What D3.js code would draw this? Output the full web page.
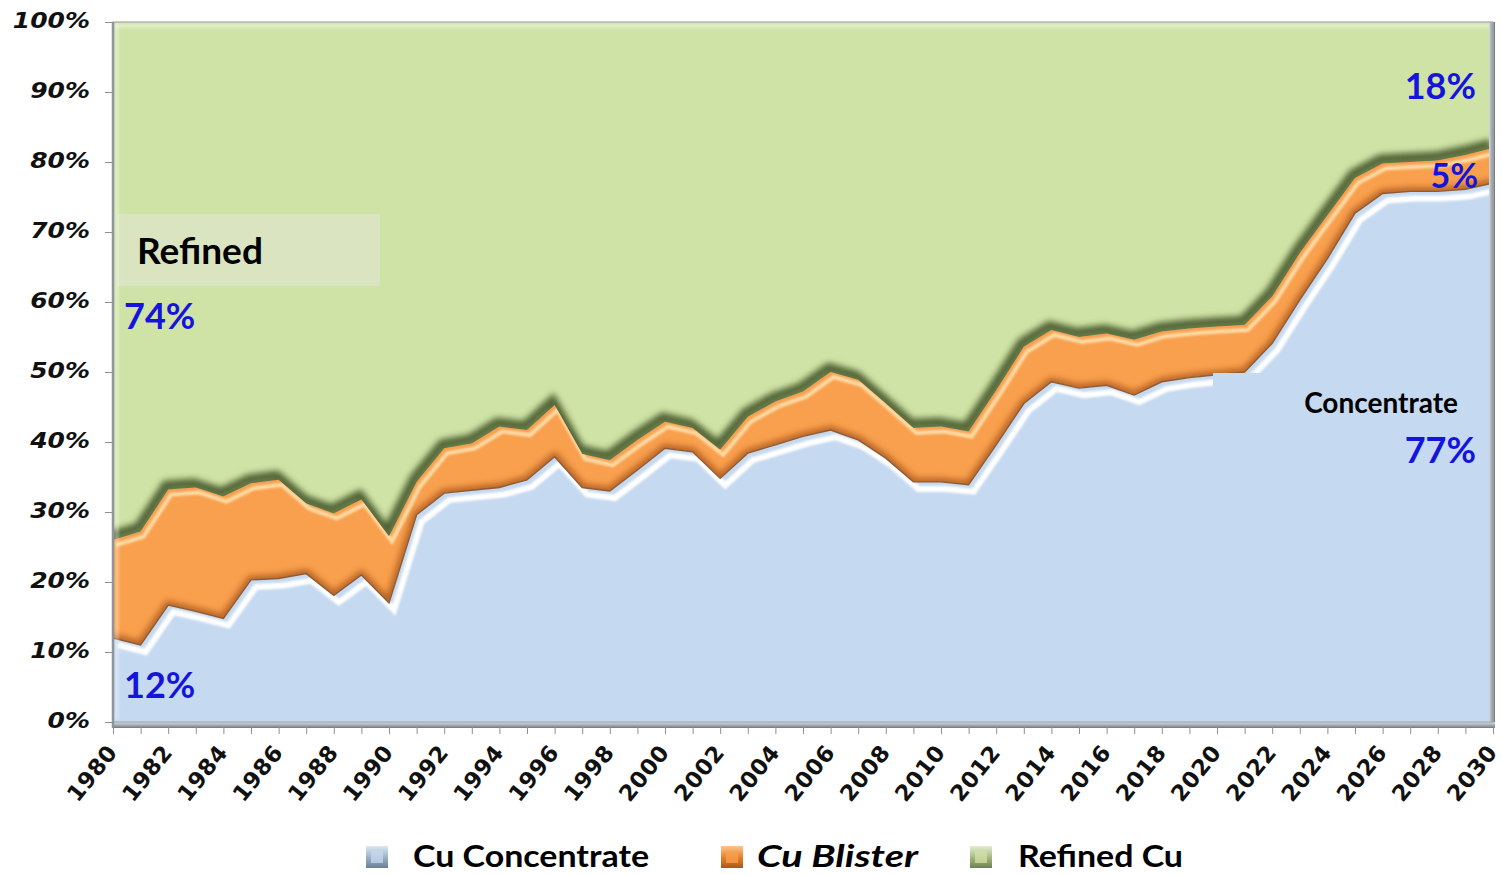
<!DOCTYPE html>
<html>
<head>
<meta charset="utf-8">
<script src="https://cdn.jsdelivr.net/npm/d3@7"></script>
<style>
  body { margin: 0; background: #fff; }
</style>
</head>
<body>
<svg id="chart" width="1502" height="875"></svg>
<script>
// categories
const years = d3.range(1980, 2031);
const yTicks = [0, 10, 20, 30, 40, 50, 60, 70, 80, 90, 100];
const xTickLabels = d3.range(1980, 2031, 2);

// share of trade, %
const concentrate = [12, 11, 16.7, 15.8, 14.8, 20.3, 20.5, 21.2, 18.1, 21, 17,
  29.6, 32.7, 33.1, 33.5, 34.6, 37.9, 33.5, 33, 36, 39.1,
  38.6, 34.8, 38.4, 39.6, 40.8, 41.7, 40.3, 37.7, 34.3, 34.3,
  33.9, 39.6, 45.5, 48.6, 47.7, 48.1, 46.7, 48.6, 49.2, 49.6,
  50, 54.1, 60.3, 66.2, 72.7, 75.5, 75.8, 75.8, 76.1, 77];
const blister = [14, 16.2, 16.5, 17.7, 17.4, 13.8, 14.1, 10, 11.7, 10.8, 9.5,
  4.7, 6.4, 6.7, 8.7, 7.1, 7.4, 4.8, 4.4, 4.3, 3.8,
  3.4, 4.1, 5.2, 6.2, 6.4, 8.3, 8.6, 7.8, 7.7, 7.9,
  7.6, 7.8, 8.1, 7.4, 7.3, 7.4, 7.9, 7.2, 7, 6.9,
  6.7, 6.7, 6.7, 6.2, 5, 4.3, 4.2, 4.4, 4.9, 5];
const refined = [74, 72.8, 66.8, 66.5, 67.8, 65.9, 65.4, 68.8, 70.2, 68.2, 73.5,
  65.7, 60.9, 60.2, 57.8, 58.3, 54.7, 61.7, 62.6, 59.7, 57.1,
  58, 61.1, 56.4, 54.2, 52.8, 50, 51.1, 54.5, 58, 57.8,
  58.5, 52.6, 46.4, 44, 45, 44.5, 45.4, 44.2, 43.8, 43.5,
  43.3, 39.2, 33, 27.6, 22.3, 20.2, 20, 19.8, 19, 18];

const seriesNames = ["Cu Concentrate", "Cu Blister", "Refined Cu"];
const seriesColors = ["#c5d9f0", "#f9a04e", "#d0e3a6"];

const table = years.map((yr, i) => ({
  year: yr,
  "Cu Concentrate": concentrate[i],
  "Cu Blister": blister[i],
  "Refined Cu": refined[i]
}));

const svg = d3.select("#chart");
const plotLeft = 113, plotRight = 1493, plotTop = 22, plotBottom = 722;

const x = d3.scaleLinear().domain([1980, 2030]).range([plotLeft, plotRight]);
const y = d3.scaleLinear().domain([0, 100]).range([plotBottom, plotTop]).clamp(true);

const stack = d3.stack().keys(seriesNames);
const layers = stack(table);

const area = d3.area()
  .x(d => x(d.data.year))
  .y0(d => y(d[0]))
  .y1(d => y(d[1]));
const topLine = d3.line()
  .x(d => x(d.data.year))
  .y(d => y(d[1]));

const defs = svg.append("defs");
defs.append("filter").attr("id", "blurBig")
  .attr("filterUnits", "userSpaceOnUse")
  .attr("x", 0).attr("y", 0).attr("width", 1502).attr("height", 875)
  .append("feGaussianBlur").attr("stdDeviation", 3);
defs.append("filter").attr("id", "blurSmall")
  .attr("filterUnits", "userSpaceOnUse")
  .attr("x", 0).attr("y", 0).attr("width", 1502).attr("height", 875)
  .append("feGaussianBlur").attr("stdDeviation", 1.1);

defs.append("clipPath").attr("id", "clipPlot")
  .append("rect").attr("x", plotLeft).attr("y", plotTop)
  .attr("width", plotRight - plotLeft).attr("height", plotBottom - plotTop);
layers.forEach((layer, i) => {
  defs.append("clipPath").attr("id", "clipArea" + i)
    .append("path").attr("d", area(layer));
});

// legend / frame gradients
function grad(id, stops, vertical) {
  const g = defs.append("linearGradient").attr("id", id)
    .attr("x1", 0).attr("y1", 0)
    .attr("x2", vertical ? 0 : 1).attr("y2", vertical ? 1 : 0);
  stops.forEach(([o, c]) => g.append("stop").attr("offset", o).attr("stop-color", c));
}
grad("gBottom", [[0, "#d5dade"], [0.5, "#a8afb7"], [1, "#6f7780"]], true);
grad("gRight", [[0, "#d5dade"], [0.5, "#9aa2ab"], [1, "#6f7780"]], false);
grad("lg0", [[0, "#dde8f3"], [0.5, "#9fb3c8"], [1, "#6a7f96"]], true);
grad("lg1", [[0, "#fcc58d"], [0.5, "#e8832e"], [1, "#a8581a"]], true);
grad("lg2", [[0, "#e3edcd"], [0.5, "#a9bb84"], [1, "#6e8050"]], true);

const plot = svg.append("g").attr("clip-path", "url(#clipPlot)");

// refined (green) area
plot.append("path").attr("d", area(layers[2])).attr("fill", seriesColors[2]);

// shadow above the blister band
plot.append("path")
  .attr("d", topLine(layers[1]))
  .attr("fill", "none")
  .attr("stroke", "#3f5226")
  .attr("stroke-width", 10)
  .attr("opacity", 0.9)
  .attr("transform", "translate(-2,-4)")
  .attr("filter", "url(#blurBig)");
plot.append("path")
  .attr("d", topLine(layers[1]))
  .attr("fill", "none")
  .attr("stroke", "#5b6e42")
  .attr("stroke-width", 3)
  .attr("opacity", 0.8)
  .attr("transform", "translate(0,-1)")
  .attr("filter", "url(#blurSmall)");

// blister (orange) area
plot.append("path").attr("d", area(layers[1])).attr("fill", seriesColors[1]);
const orangeFx = plot.append("g").attr("clip-path", "url(#clipArea1)");
orangeFx.append("path")
  .attr("d", topLine(layers[0]))
  .attr("fill", "none")
  .attr("stroke", "#a9561a")
  .attr("stroke-width", 8)
  .attr("opacity", 0.85)
  .attr("filter", "url(#blurBig)");
orangeFx.append("path")
  .attr("d", topLine(layers[1]))
  .attr("fill", "none")
  .attr("stroke", "#ffdca6")
  .attr("stroke-width", 4)
  .attr("transform", "translate(3,5)")
  .attr("filter", "url(#blurSmall)");

// concentrate (blue) area
plot.append("path").attr("d", area(layers[0])).attr("fill", seriesColors[0]);
const blueFx = plot.append("g").attr("clip-path", "url(#clipArea0)");
blueFx.append("path")
  .attr("d", topLine(layers[0]))
  .attr("fill", "none")
  .attr("stroke", "#ffffff")
  .attr("stroke-width", 6)
  .attr("transform", "translate(5,7)")
  .attr("filter", "url(#blurSmall)");
plot.append("path")
  .attr("d", topLine(layers[0]))
  .attr("fill", "none")
  .attr("stroke", "#8d5c38")
  .attr("stroke-width", 1.4);

// label boxes inside the plot
plot.append("rect").attr("x", 117).attr("y", 214).attr("width", 263).attr("height", 72)
  .attr("fill", "#dbe4c1");
plot.append("rect").attr("x", 1213).attr("y", 373).attr("width", 266).attr("height", 100)
  .attr("fill", seriesColors[0]);

// plot frame bevel
plot.append("rect").attr("x", plotLeft + 2).attr("y", plotTop + 2)
  .attr("width", plotRight - plotLeft - 4).attr("height", 4)
  .attr("fill", "#ffffff").attr("opacity", 0.35).attr("filter", "url(#blurSmall)");
plot.append("rect").attr("x", plotLeft + 2).attr("y", plotTop + 2)
  .attr("width", 4).attr("height", plotBottom - plotTop - 4)
  .attr("fill", "#ffffff").attr("opacity", 0.3).attr("filter", "url(#blurSmall)");
svg.append("rect").attr("x", plotRight - 4).attr("y", plotTop)
  .attr("width", 6).attr("height", plotBottom - plotTop + 6)
  .attr("fill", "url(#gRight)");
svg.append("rect").attr("x", plotLeft).attr("y", plotBottom)
  .attr("width", plotRight - plotLeft + 2).attr("height", 6)
  .attr("fill", "url(#gBottom)");
svg.append("rect").attr("x", plotLeft).attr("y", plotTop)
  .attr("width", plotRight - plotLeft).attr("height", plotBottom - plotTop)
  .attr("fill", "none").attr("stroke", "#a3a9ae").attr("stroke-width", 1.2);
svg.append("line").attr("x1", plotLeft).attr("x2", plotLeft)
  .attr("y1", plotTop).attr("y2", plotBottom + 6)
  .attr("stroke", "#8e959c").attr("stroke-width", 2.5);

// y axis
const yAxis = d3.axisLeft(y).tickValues(yTicks).tickSize(8).tickFormat(d => d + "%");
const yg = svg.append("g").attr("transform", `translate(${plotLeft},0)`).call(yAxis);
yg.select(".domain").remove();
yg.selectAll(".tick line").attr("stroke", "#8f8f8f");
yg.selectAll(".tick text")
  .attr("x", 0).attr("dy", null)
  .attr("dominant-baseline", "middle")
  .attr("text-anchor", "end")
  .attr("transform", "translate(-23,0) scale(1.22,1)")
  .attr("fill", "#111")
  .style("font-family", "'DejaVu Sans', Verdana, sans-serif")
  .style("font-weight", "bold")
  .style("font-style", "italic")
  .style("font-size", "20.5px");

// x axis
const xAxis = d3.axisBottom(x).tickValues(years).tickSize(7)
  .tickFormat(d => (xTickLabels.includes(d) ? d : ""));
const xg = svg.append("g").attr("transform", `translate(0,${plotBottom + 5})`).call(xAxis);
xg.select(".domain").remove();
xg.selectAll(".tick line").attr("stroke", "#8f8f8f");
xg.selectAll(".tick text")
  .attr("x", 0).attr("y", 0).attr("dy", null)
  .attr("text-anchor", "end")
  .attr("transform", "translate(5,26) rotate(-51)")
  .attr("fill", "#111")
  .style("font-family", "'DejaVu Sans', Verdana, sans-serif")
  .style("font-weight", "bold")
  .style("font-size", "22.5px")
  .style("letter-spacing", "0.5px");

// in-chart labels
const blue = "#1414dc";
const labels = [
  { t: "Refined", x: 137, y: 264, s: 37, c: "#000", a: "start" },
  { t: "74%", x: 124, y: 329, s: 36, c: blue, a: "start" },
  { t: "12%", x: 124, y: 698, s: 36, c: blue, a: "start" },
  { t: "18%", x: 1476, y: 99, s: 36, c: blue, a: "end" },
  { t: "5%", x: 1478, y: 188, s: 34, c: blue, a: "end" },
  { t: "Concentrate", x: 1458, y: 413, s: 28, c: "#000", a: "end" },
  { t: "77%", x: 1476, y: 463, s: 36, c: blue, a: "end" }
];
svg.append("g").selectAll("text").data(labels).join("text")
  .attr("x", d => d.x).attr("y", d => d.y)
  .attr("text-anchor", d => d.a)
  .attr("fill", d => d.c)
  .style("font-family", "Lato, 'Open Sans', sans-serif")
  .style("font-weight", "bold")
  .style("font-size", d => d.s + "px")
  .text(d => d.t);

// legend
const legendX = [366, 721, 970];
const legendTextX = [413, 757, 1018];
const legendW = [236, 161, 165];
const lg = svg.append("g");
seriesNames.forEach((name, i) => {
  lg.append("rect").attr("x", legendX[i]).attr("y", 846)
    .attr("width", 22).attr("height", 22)
    .attr("fill", `url(#lg${i})`);
  lg.append("rect").attr("x", legendX[i] + 5).attr("y", 851)
    .attr("width", 12).attr("height", 12)
    .attr("fill", seriesColors[i]).attr("opacity", 0.75);
  lg.append("text")
    .attr("x", legendTextX[i]).attr("y", 867)
    .attr("textLength", legendW[i]).attr("lengthAdjust", "spacingAndGlyphs")
    .attr("fill", "#000")
    .style("font-family", "Lato, 'Open Sans', sans-serif")
    .style("font-weight", "bold")
    .style("font-style", i === 1 ? "italic" : "normal")
    .style("font-size", "31px")
    .text(name);
});
</script>
</body>
</html>
